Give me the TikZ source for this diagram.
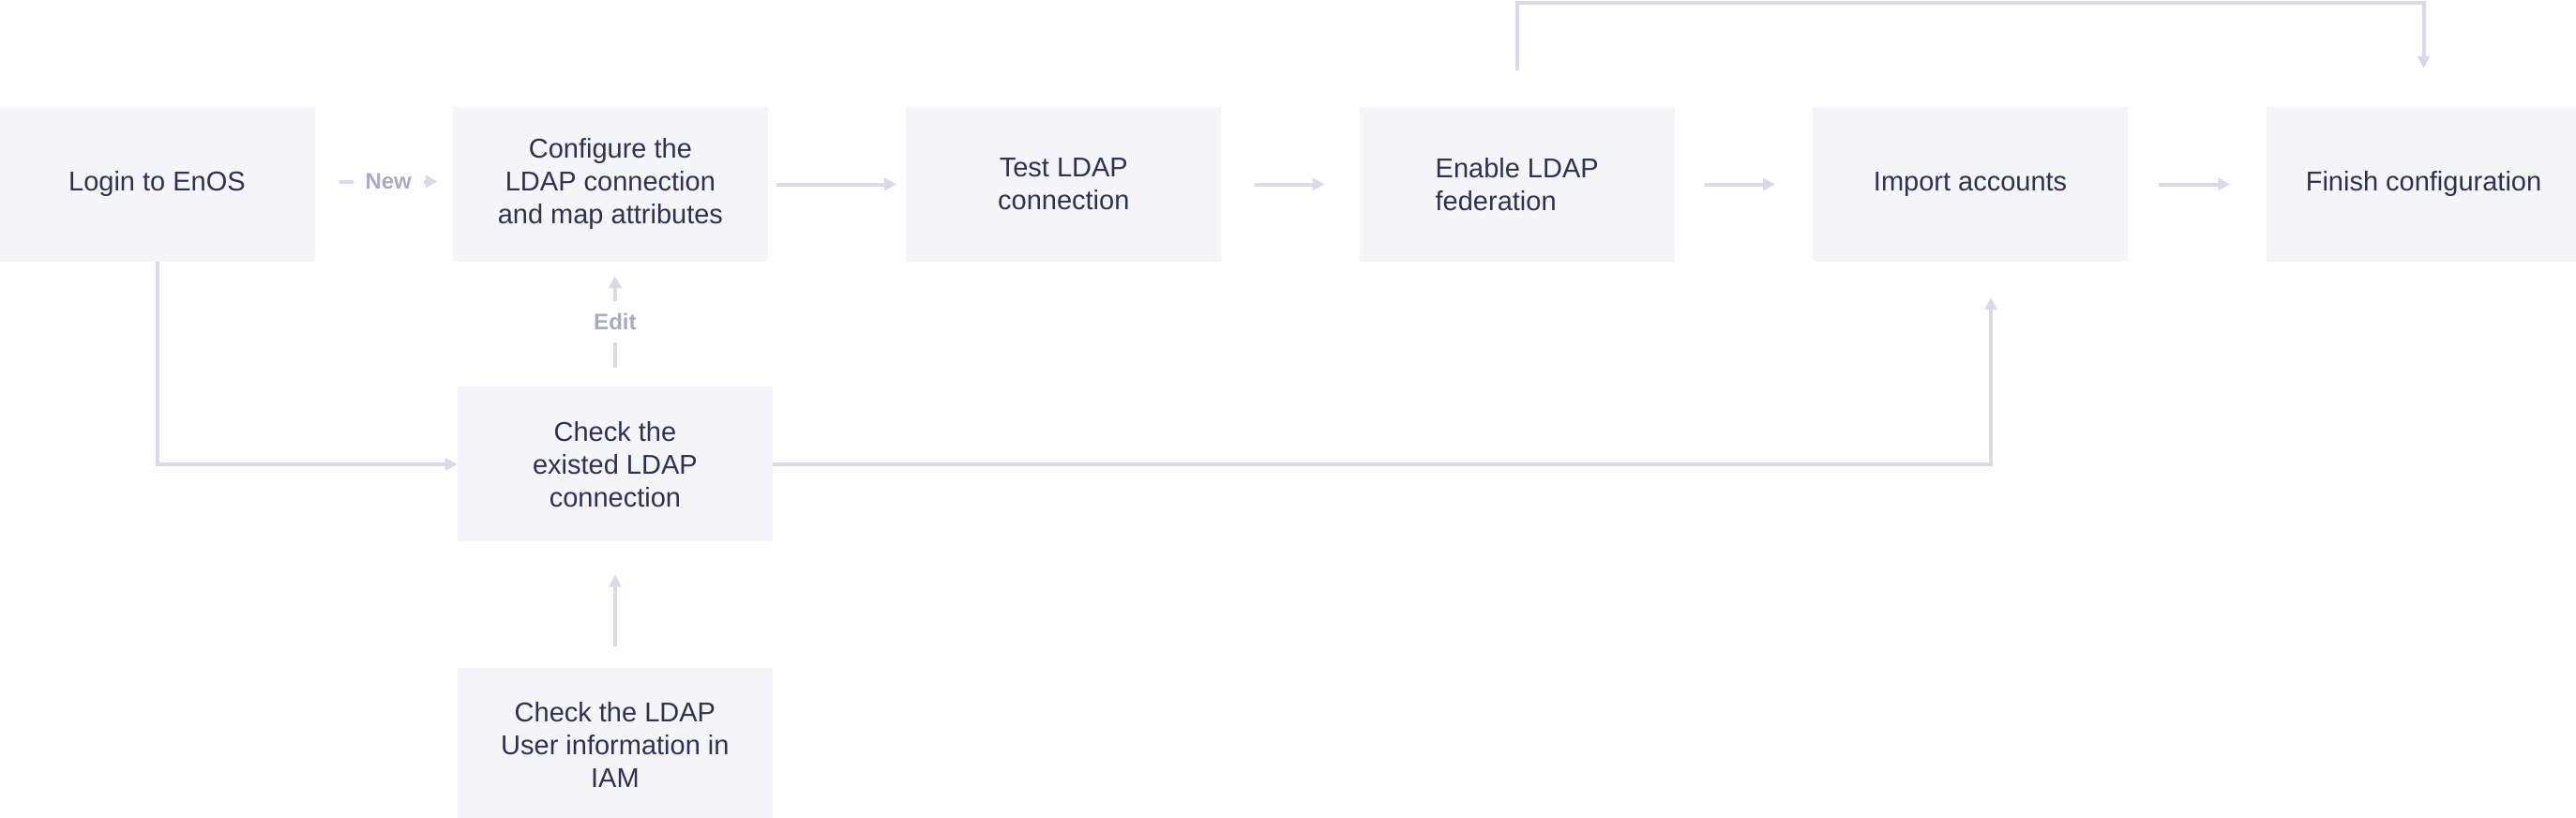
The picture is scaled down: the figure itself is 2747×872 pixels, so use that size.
\documentclass[tikz,border=0pt]{standalone}
\usepackage{fontspec}
\setmainfont{Liberation Sans}
\usetikzlibrary{positioning,arrows.meta}
\definecolor{boxfill}{HTML}{F5F5F9}
\definecolor{boxtext}{HTML}{2E3250}
\definecolor{flowline}{HTML}{D9D9E7}
\definecolor{flowlabel}{HTML}{A8AAC2}

\begin{document}
\begin{tikzpicture}[
                node distance=147pt,
                stepnode/.style={fill=boxfill, text=boxtext, minimum width=336pt, minimum height=165pt,
                        inner sep=0pt, align=center, font=\fontsize{29}{35}\selectfont},
                flow/.style={draw=flowline, line width=4pt, -{Triangle[length=13pt,width=13pt]}},
                flowtag/.style={fill=white, text=flowlabel, inner sep=13pt, font=\fontsize{24}{28}\selectfont\bfseries}
            ]
            \useasboundingbox (0,0) rectangle (2747pt,-872pt);
            % top row
            \node[stepnode] (login) at (167.5pt,-196.5pt) {Login to EnOS};
            \node[stepnode, right=of login] (config) {Configure the\\LDAP connection\\and map attributes};
            \node[stepnode, right=of config] (test) {Test LDAP\\connection};
            \node[stepnode, right=of test, align=left] (enable) {Enable LDAP\\federation};
            \node[stepnode, right=of enable] (import) {Import accounts};
            \node[stepnode, right=of import] (finish) {Finish configuration};
            % lower column
            \node[stepnode, below=133pt of config, xshift=5pt] (check) {Check the\\existed LDAP\\connection};
            \node[stepnode, below=134pt of check] (user) {Check the LDAP\\User information in\\IAM};

            \draw[flow] ([xshift=26pt,yshift=3pt]login.east) -- ([xshift=-16pt,yshift=3pt]config.west)
                node[midway, flowtag] {New};
            \draw[flow] ([xshift=9pt]config.east) -- ([xshift=-10pt]test.west);
            \draw[flow] ([xshift=35pt]test.east) -- ([xshift=-37pt]enable.west);
            \draw[flow] ([xshift=32pt]enable.east) -- ([xshift=-40pt]import.west);
            \draw[flow] ([xshift=33pt]import.east) -- ([xshift=-38pt]finish.west);
            \draw[flow] ([yshift=39pt]enable.north) -- ++(0,72pt) -| ([yshift=41pt]finish.north);

            \draw[flow] (login.south) |- (check.west);
            \draw[flow] ([yshift=20pt]check.north) -- ([yshift=-15pt]check.north |- config.south)
                node[midway, flowtag] {Edit};
            \draw[flow] (check.east) -| ([xshift=22pt,yshift=-38pt]import.south);
            \draw[flow] ([yshift=23pt]user.north) -- ([yshift=-35pt]check.south);
        \end{tikzpicture}
\end{document}
